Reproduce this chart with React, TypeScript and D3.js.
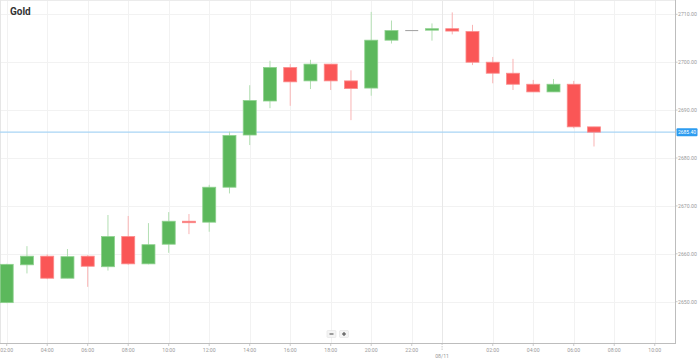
import React from "react";
import * as d3 from "d3";

const W = 699;
const H = 361;

// hour index (day 1 hours 2..23, day 2 hours 24..31)
const hours = [2,3,4,5,6,7,8,9,10,11,12,13,14,15,16,17,18,19,20,21,22,23,24,25,26,27,28,29,30,31];
const opens = [2649.8,2657.7,2659.5,2654.9,2659.5,2657.3,2663.6,2657.9,2662.0,2666.8,2666.6,2673.9,2684.8,2691.9,2698.9,2696.1,2699.6,2696.1,2694.6,2704.6,2706.6,2706.7,2707.0,2706.4,2700.0,2697.7,2695.4,2693.8,2695.4,2686.5];
const highs = [2657.9,2661.6,2659.9,2661.0,2659.7,2668.1,2667.9,2666.4,2668.7,2668.3,2674.4,2685.5,2695.2,2700.3,2699.6,2700.5,2699.6,2698.3,2710.5,2708.7,2706.6,2708.1,2710.4,2707.8,2701.1,2700.7,2696.3,2696.5,2696.1,2686.5];
const lows = [2649.7,2655.9,2654.7,2654.9,2653.1,2656.5,2657.7,2657.8,2660.2,2664.1,2664.6,2672.6,2682.7,2690.4,2690.9,2694.4,2694.2,2687.9,2693.0,2703.9,2706.6,2704.5,2705.8,2699.4,2695.6,2694.2,2693.8,2693.8,2686.2,2682.4];
const closes = [2657.8,2659.5,2654.9,2659.4,2657.4,2663.6,2657.9,2661.9,2666.8,2666.5,2673.9,2684.7,2692.0,2698.9,2695.9,2699.6,2696.1,2694.5,2704.6,2706.6,2706.6,2707.0,2706.5,2700.0,2697.7,2695.4,2693.8,2695.4,2686.5,2685.4];

const yTicks = [2650, 2660, 2670, 2680, 2690, 2700, 2710];
const xTickHours = [2,4,6,8,10,12,14,16,18,20,22,23.5,26,28,30,32,34];
const xTickLabels = ["02:00","04:00","06:00","08:00","10:00","12:00","14:00","16:00","18:00","20:00","22:00","08/11","02:00","04:00","06:00","08:00","10:00"];
const currentPrice = 2685.4;
const title = "Gold";

const PLOT_L = 0;
const PLOT_R = 675;
const PLOT_T = 1;
const PLOT_B = 343.5;

export default function App() {
  const x = d3.scaleLinear().domain([1.669, 35.0]).range([PLOT_L, PLOT_R]);
  const y = d3.scaleLinear().domain([2641.27, 2712.78]).range([PLOT_B, PLOT_T]);
  const bw = 13;
  const font = "Roboto, 'Open Sans', sans-serif";
  const GREEN = "#5cb85c";
  const GREEN_BORDER = "#8fd18f";
  const GREEN_WICK = "#b3dfb3";
  const RED = "#fa5656";
  const RED_BORDER = "#fb8c8c";
  const RED_WICK = "#f9b4b4";

  return (
    <div style={{ position: "absolute", left: 0, top: 0, width: W, height: H, background: "#fff" }}>
      <svg width={W} height={H} style={{ display: "block" }} fontFamily={font}>
        <rect x={0} y={0} width={W} height={H} fill="#fff" />
        {/* grid */}
        {yTicks.map((t) => (
          <line key={"gy" + t} x1={PLOT_L} x2={PLOT_R} y1={Math.round(y(t)) + 0.5} y2={Math.round(y(t)) + 0.5} stroke="#f2f2f2" />
        ))}
        {xTickHours.map((h, i) => (
          <line key={"gx" + i} x1={Math.round(x(h)) + 0.5} x2={Math.round(x(h)) + 0.5} y1={PLOT_T} y2={PLOT_B} stroke={xTickLabels[i] === "08/11" ? "#e8e8e8" : "#f2f2f2"} />
        ))}
        <line x1={PLOT_L} x2={PLOT_R} y1={0.5} y2={0.5} stroke="#ebebeb" />
        <line x1={0.5} x2={0.5} y1={0} y2={PLOT_B} stroke="#e6e6e6" />

        {/* current price line */}
        <line x1={PLOT_L} x2={PLOT_R} y1={y(currentPrice)} y2={y(currentPrice)} stroke="#a9d5f5" strokeWidth={1.2} />

        {/* candles */}
        {hours.map((h, i) => {
          const o = opens[i], c = closes[i], hi = highs[i], lo = lows[i];
          const cx = x(h);
          const flat = o === c && hi === lo;
          if (flat) {
            return <line key={i} x1={cx - bw / 2} x2={cx + bw / 2} y1={y(o)} y2={y(o)} stroke="#9e9e9e" strokeWidth={1} />;
          }
          const up = c >= o;
          const top = y(Math.max(o, c));
          const bot = y(Math.min(o, c));
          const bh = Math.max(1.5, bot - top);
          return (
            <g key={i}>
              <line x1={cx} x2={cx} y1={y(hi)} y2={y(lo)} stroke={up ? GREEN_WICK : RED_WICK} strokeWidth={1} />
              <rect x={cx - bw / 2} y={top} width={bw} height={bh} fill={up ? GREEN : RED} stroke={up ? GREEN_BORDER : RED_BORDER} strokeWidth={0.8} />
            </g>
          );
        })}

        {/* y axis */}
        <line x1={PLOT_R + 0.5} x2={PLOT_R + 0.5} y1={0} y2={PLOT_B} stroke="#bdbdbd" />
        {yTicks.map((t) => (
          <g key={"yt" + t}>
            <line x1={PLOT_R} x2={PLOT_R + 2.5} y1={y(t)} y2={y(t)} stroke="#bdbdbd" strokeWidth={0.8} />
            <text x={PLOT_R + 3} y={y(t)} dy="0.35em" fontSize={5.2} fill="#9a9a9a">{t.toFixed(2)}</text>
          </g>
        ))}
        {/* current price label */}
        <rect x={PLOT_R + 1.5} y={y(currentPrice) - 4} width={21} height={8} rx={1} fill="#2d9cf0" />
        <text x={PLOT_R + 12} y={y(currentPrice)} dy="0.35em" fontSize={5} fill="#fff" textAnchor="middle">{currentPrice.toFixed(2)}</text>

        {/* x axis */}
        <line x1={PLOT_L} x2={PLOT_R + 1} y1={PLOT_B} y2={PLOT_B} stroke="#bdbdbd" />
        {xTickHours.map((h, i) => {
          const isDate = xTickLabels[i] === "08/11";
          return (
            <g key={"xt" + i}>
              <line x1={x(h)} x2={x(h)} y1={PLOT_B} y2={PLOT_B + (isDate ? 7 : 2.5)} stroke="#bdbdbd" strokeWidth={0.8} strokeDasharray={isDate ? "1.5,1" : undefined} />
              <text x={x(h)} y={isDate ? 356.5 : 350} dy="0.35em" fontSize={5.2} fill="#9a9a9a" textAnchor="middle">{xTickLabels[i]}</text>
            </g>
          );
        })}

        {/* zoom buttons */}
        <rect x={327} y={330.5} width={9} height={7} rx={1} fill="#f4f4f4" stroke="#e2e2e2" strokeWidth={0.6} />
        <rect x={339.5} y={330.5} width={9} height={7} rx={1} fill="#f4f4f4" stroke="#e2e2e2" strokeWidth={0.6} />
        <line x1={329.5} x2={333.5} y1={334} y2={334} stroke="#444" strokeWidth={1} />
        <line x1={342} x2={346} y1={334} y2={334} stroke="#444" strokeWidth={1} />
        <line x1={344} x2={344} y1={332} y2={336} stroke="#444" strokeWidth={1} />

        {/* title */}
        <text x={10} y={15} fontSize={10} fontWeight="bold" fill="#333" fontFamily="Roboto, 'DejaVu Sans', sans-serif">{title}</text>
      </svg>
    </div>
  );
}
